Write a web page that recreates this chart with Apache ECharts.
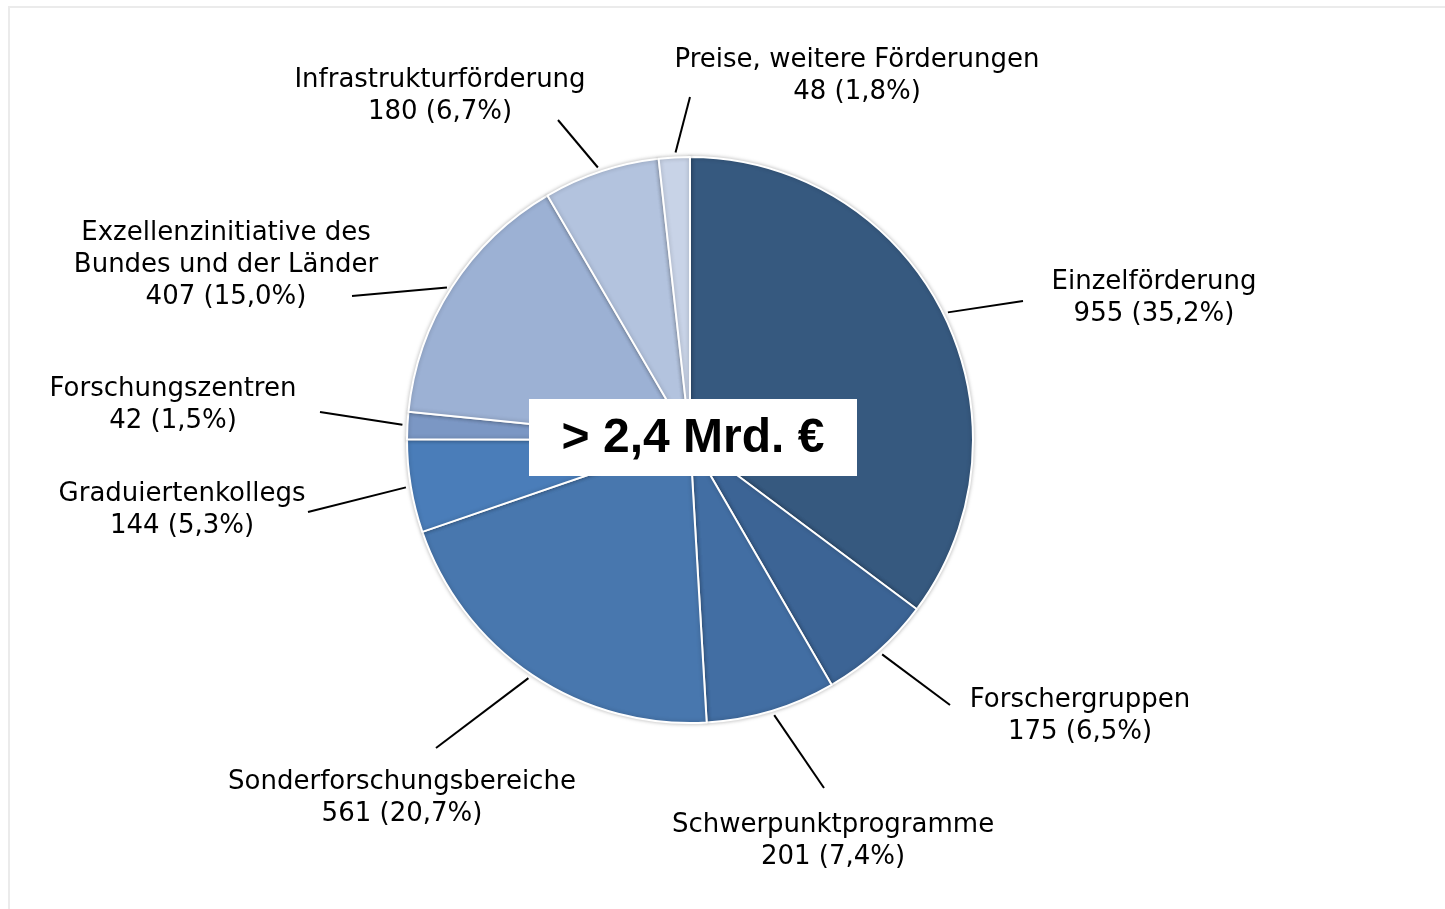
<!DOCTYPE html>
<html>
<head>
<meta charset="utf-8">
<script src="https://cdn.jsdelivr.net/npm/echarts@6/dist/echarts.min.js"></script>
<style>
  html, body { margin: 0; padding: 0; background: #fff; }
  #chart { width: 1445px; height: 909px; }
</style>
</head>
<body>
<div id="chart"></div>
<script>
// Fördervolumen nach Programmen (Mio. €)
var names = ['Einzelförderung', 'Forschergruppen', 'Schwerpunktprogramme', 'Sonderforschungsbereiche',
  'Graduiertenkollegs', 'Forschungszentren', 'Exzellenzinitiative des\nBundes und der Länder',
  'Infrastrukturförderung', 'Preise, weitere Förderungen'];
var values = [955, 175, 201, 561, 144, 42, 407, 180, 48];
var pctLabels = ['35,2', '6,5', '7,4', '20,7', '5,3', '1,5', '15,0', '6,7', '1,8'];
var colors = ['#36597f', '#3c6495', '#426ea3', '#4877ae', '#4a7db9', '#7b97c4', '#9cb1d4', '#b3c3de', '#c8d3e7'];

// label layout: label centres and where each leader line stops (pixels)
var labelPos = [[1154, 298], [1080, 716], [833, 841], [402, 798], [182, 510], [173, 405], [226, 265], [440, 96], [857, 76]];
var lineEnd = [[1023, 301], [950, 705], [824, 788], [436, 748], [308, 512], [320, 412], [352, 296], [558, 120], [690, 97]];

var myChart = echarts.init(document.getElementById('chart'));

var seriesData = values.map(function (v, i) {
  return {
    name: names[i],
    value: v,
    itemStyle: { color: colors[i] }
  };
});

var option = {
  animation: false,
  graphic: [
    {
      type: 'rect', z: -10,
      shape: { x: 9, y: 7, width: 1500, height: 1000 },
      style: { fill: 'none', stroke: '#ebebeb', lineWidth: 2 }
    },
    {
      type: 'rect', z: 100,
      shape: { x: 529, y: 399, width: 328, height: 77 },
      style: { fill: '#ffffff' }
    },
    {
      type: 'text', z: 101, x: 693, y: 439,
      style: {
        text: '> 2,4 Mrd. €', fill: '#000',
        font: 'bold 48px "Liberation Sans", Arial, sans-serif',
        align: 'center', verticalAlign: 'middle'
      }
    }
  ],
  series: [
    {
      type: 'pie',
      center: [690, 440],
      radius: 283,
      startAngle: 90,
      clockwise: true,
      avoidLabelOverlap: false,
      itemStyle: {
        borderColor: '#ffffff',
        borderWidth: 2,
        shadowBlur: 4,
        shadowColor: 'rgba(0,0,0,0.25)'
      },
      label: {
        show: true,
        position: 'outside',
        color: '#000',
        fontFamily: '"DejaVu Sans", Verdana, sans-serif',
        fontSize: 26,
        lineHeight: 32,
        align: 'center',
        formatter: function (p) {
          return p.name + '\n' + p.value + ' (' + pctLabels[p.dataIndex] + '%)';
        }
      },
      labelLine: {
        show: true,
        length: 60,
        length2: 0,
        smooth: false,
        lineStyle: { color: '#000', width: 2 }
      },
      labelLayout: function (params) {
        var i = params.dataIndex;
        var pos = labelPos[i];
        // start of the leader line: the pie's own edge point for this slice, pushed out a little
        var p0 = params.labelLinePoints[0];
        var end = lineEnd[i];
        var dx = end[0] - p0[0], dy = end[1] - p0[1];
        var d = Math.sqrt(dx * dx + dy * dy) || 1;
        var start = [p0[0] + dx / d * 5, p0[1] + dy / d * 5];
        return {
          x: pos[0],
          y: pos[1],
          align: 'center',
          verticalAlign: 'middle',
          labelLinePoints: [start, end, end]
        };
      },
      emphasis: { disabled: true },
      data: seriesData
    }
  ]
};
myChart.setOption(option);
</script>
</body>
</html>
